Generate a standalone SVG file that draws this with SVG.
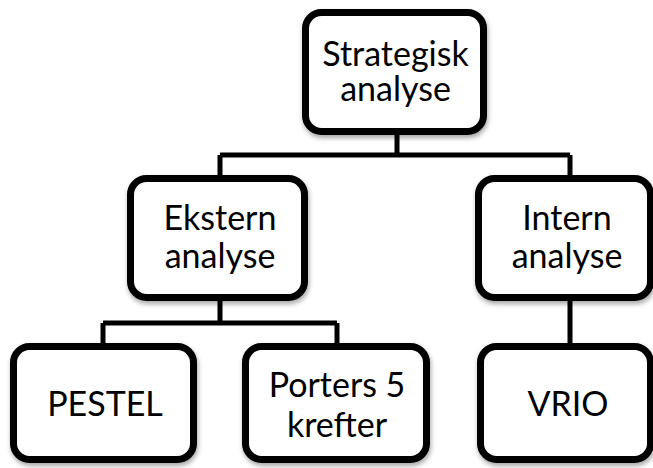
<svg xmlns="http://www.w3.org/2000/svg" width="653" height="468" viewBox="0 0 653 468">
<defs>
<filter id="sh" x="-10%" y="-10%" width="125%" height="130%">
<feDropShadow dx="1" dy="3" stdDeviation="2.5" flood-color="#000" flood-opacity="0.35"/>
</filter>
</defs>
<style>
.box{fill:#fff;stroke:#000;stroke-width:7;filter:url(#sh)}
.conn{fill:none;stroke:#000;stroke-width:5}
text{font-family:Lato,"Open Sans",sans-serif;font-size:34px;fill:#000;text-anchor:middle}
</style>
<rect width="653" height="468" fill="#fff"/>
<g id="connectors">
<path class="conn" d="M397 131V155M220 155H570M220 155V178M570 155V178"/>
<path class="conn" d="M220 297V323M103 323H337M103 323V346M337 323V346M570 297V346"/>
</g>
<g id="strategisk">
<rect class="box" x="305.5" y="12.5" width="178" height="119" rx="16"/>
<text x="395.5" y="66">Strategisk</text>
<text x="395.5" y="101">analyse</text>
</g>
<g id="ekstern">
<rect class="box" x="130.5" y="178.5" width="174" height="119" rx="16"/>
<text x="220" y="230">Ekstern</text>
<text x="220" y="268">analyse</text>
</g>
<g id="intern">
<rect class="box" x="478.5" y="178.5" width="172" height="119" rx="16"/>
<text x="567" y="230">Intern</text>
<text x="567" y="268">analyse</text>
</g>
<g id="pestel">
<rect class="box" x="13.5" y="346.5" width="180" height="113" rx="16"/>
<text x="105" y="416">PESTEL</text>
</g>
<g id="porters">
<rect class="box" x="245.5" y="346.5" width="181" height="113" rx="16"/>
<text x="337" y="397">Porters 5</text>
<text x="337" y="437">krefter</text>
</g>
<g id="vrio">
<rect class="box" x="480.5" y="346.5" width="170" height="113" rx="16"/>
<text x="568" y="416">VRIO</text>
</g>
</svg>
